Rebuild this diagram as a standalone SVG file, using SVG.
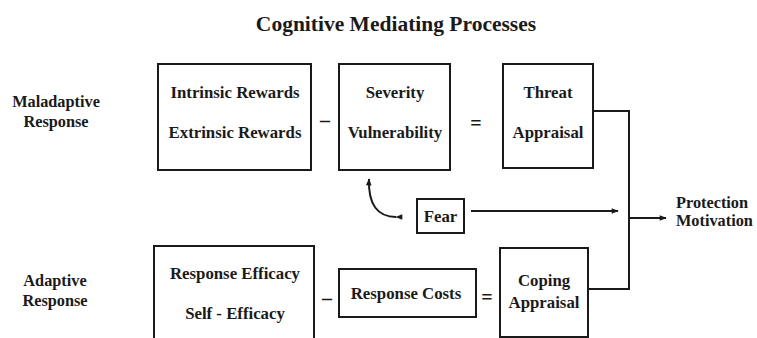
<svg xmlns="http://www.w3.org/2000/svg" width="757" height="338" viewBox="0 0 757 338">
<style>
text{font-family:"Liberation Serif","Times New Roman",serif;font-weight:bold;fill:#1a1a1a}
.t{font-size:16.8px;text-anchor:middle}
.l{font-size:16.3px;text-anchor:middle}
.box{fill:#fff;stroke:#1a1a1a;stroke-width:2}
.c{fill:none;stroke:#1a1a1a;stroke-width:2}
</style>
<defs>
<marker id="ah" viewBox="0 0 10 10" refX="9" refY="5" markerWidth="8" markerHeight="7" markerUnits="userSpaceOnUse" orient="auto"><path d="M0,1 L10,5 L0,9 Z" fill="#1a1a1a"/></marker>
</defs>
<rect width="757" height="338" fill="#fff"/>
<text x="396" y="31" font-size="21.5" text-anchor="middle">Cognitive Mediating Processes</text>
<g id="maladaptive"><text class="l" x="56" y="107">Maladaptive</text><text class="l" x="56" y="127">Response</text></g>
<g id="adaptive"><text class="l" x="55" y="286">Adaptive</text><text class="l" x="55" y="306">Response</text></g>
<g id="rewards"><rect class="box" x="158" y="64" width="153" height="106"/><text class="t" x="235" y="98">Intrinsic Rewards</text><text class="t" x="235" y="138">Extrinsic Rewards</text></g>
<g id="severity"><rect class="box" x="339" y="64" width="111" height="106"/><text class="t" x="395" y="98">Severity</text><text class="t" x="395" y="138">Vulnerability</text></g>
<g id="threat"><rect class="box" x="503" y="64" width="90" height="104"/><text class="t" x="548" y="98">Threat</text><text class="t" x="548" y="138">Appraisal</text></g>
<g id="fear"><rect class="box" x="417" y="199" width="47" height="34"/><text class="t" x="440.5" y="222">Fear</text></g>
<g id="efficacy"><rect class="box" x="154" y="246" width="160" height="100"/><text class="t" x="235" y="279">Response Efficacy</text><text class="t" x="235" y="319">Self - Efficacy</text></g>
<g id="costs"><rect class="box" x="339" y="269" width="137" height="48"/><text class="t" x="406" y="299">Response Costs</text></g>
<g id="coping"><rect class="box" x="500" y="248" width="88" height="89"/><text class="t" x="544" y="286">Coping</text><text class="t" x="544" y="308">Appraisal</text></g>
<g id="protection"><text font-size="16.3" x="676" y="208">Protection</text><text font-size="16.3" x="676" y="226">Motivation</text></g>
<g id="operators">
<text font-size="20" x="325" y="127" text-anchor="middle">–</text>
<text font-size="20" x="476" y="130" text-anchor="middle">=</text>
<text font-size="20" x="327" y="305" text-anchor="middle">–</text>
<text font-size="20" x="487" y="304" text-anchor="middle">=</text>
</g>
<g id="connectors">
<path class="c" d="M593,111 H629 V289 H588"/>
<path class="c" d="M629,218 H666" marker-end="url(#ah)"/>
<path class="c" d="M471,211 H618" marker-end="url(#ah)"/>
<path class="c" d="M396,217 C378,217 368,205 369,179" marker-start="url(#ah)" marker-end="url(#ah)"/>
</g>
</svg>
